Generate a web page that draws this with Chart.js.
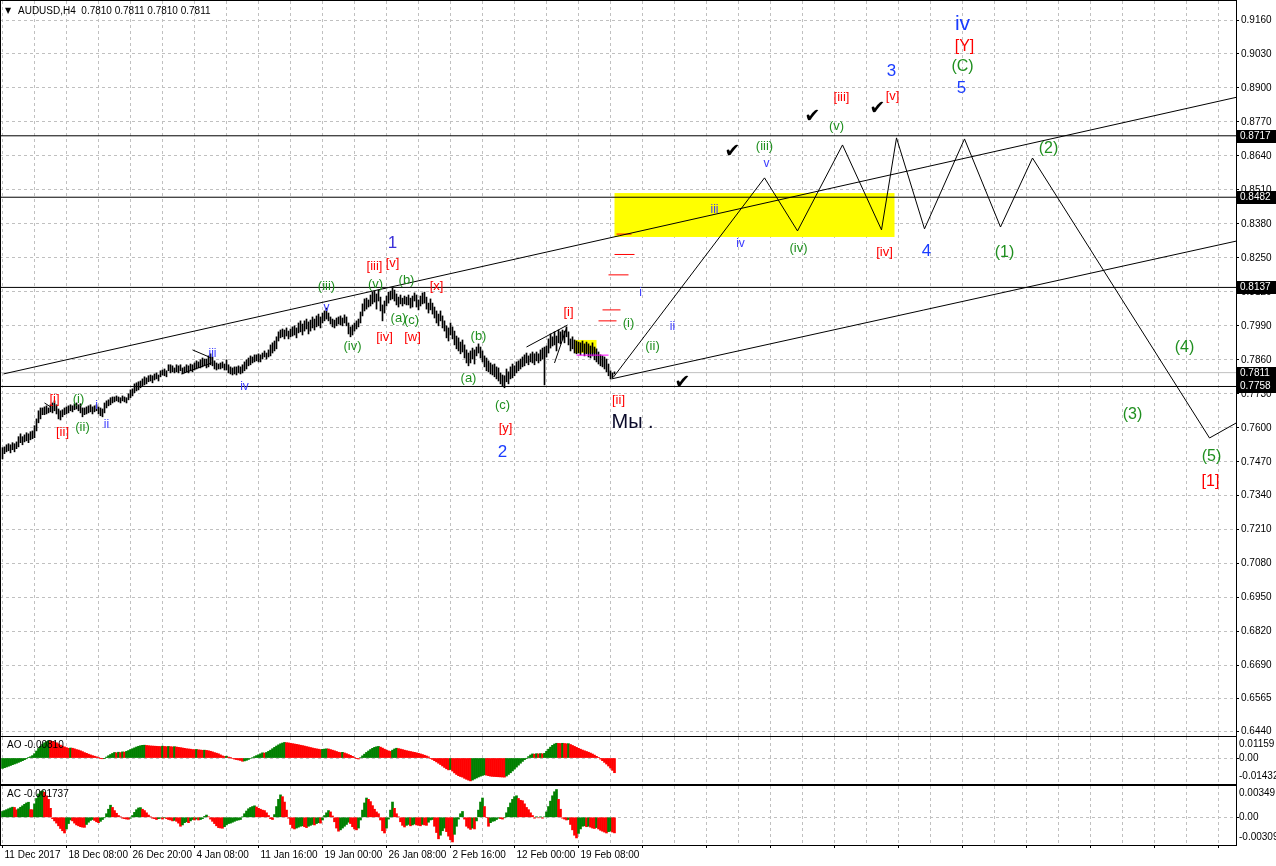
<!DOCTYPE html>
<html>
<head>
<meta charset="utf-8">
<script src="https://cdn.jsdelivr.net/npm/chart.js@4.4.1/dist/chart.umd.min.js"></script>
<style>
  html, body { margin: 0; padding: 0; background: #fff; }
  #wrap { position: relative; width: 1276px; height: 866px; overflow: hidden; }
  canvas { position: absolute; left: 0; }
</style>
</head>
<body>
<div id="wrap">
  <canvas id="mainChart" width="1276" height="737" style="top:0"></canvas>
  <canvas id="aoChart" width="1276" height="49" style="top:736px"></canvas>
  <canvas id="acChart" width="1276" height="81" style="top:785px"></canvas>
</div>
<script>
// AUDUSD H4 bars, prices in pips (x 1e-4)
const priceHigh = [
  7524,7527,7535,7539,7535,7543,7539,7546,7566,7577, 7566,7573,7581,7577,7585,7588,7608,7634,7665,7676,
  7676,7680,7684,7676,7688,7695,7703,7688,7672,7665, 7669,7676,7680,7684,7688,7684,7692,7695,7688,7692,
  7676,7676,7680,7684,7688,7680,7684,7688,7680,7676, 7672,7695,7703,7707,7715,7718,7718,7722,7718,7715,
  7722,7718,7715,7730,7745,7749,7768,7772,7776,7779, 7787,7795,7791,7799,7802,7799,7806,7810,7802,7818,
  7821,7825,7818,7841,7841,7837,7829,7841,7837,7841, 7829,7833,7841,7837,7844,7841,7848,7856,7852,7860,
  7867,7863,7863,7875,7883,7871,7856,7848,7844,7848, 7852,7844,7860,7841,7833,7829,7833,7833,7837,7833,
  7841,7852,7860,7867,7875,7871,7879,7879,7883,7879, 7886,7894,7886,7898,7917,7925,7932,7948,7967,7974,
  7978,7974,7982,7970,7978,7986,7990,7982,8001,8009, 7997,8009,8016,8005,8012,8024,8016,8028,8035,8024,
  8039,8047,8058,8039,8024,8016,8012,8020,8024,8028, 8020,8032,8024,8001,7986,7993,8001,8009,8016,8043,
  8074,8093,8096,8089,8108,8119,8123,8112,8127,8100, 8070,8085,8104,8119,8123,8135,8127,8112,8100,8108,
  8096,8104,8100,8108,8096,8104,8116,8108,8089,8104, 8116,8119,8100,8077,8093,8077,8062,8047,8035,8047,
  8028,8009,7990,7982,8001,7986,7970,7951,7944,7928, 7936,7917,7898,7886,7894,7905,7898,7909,7921,7909,
  7894,7875,7867,7856,7848,7841,7844,7833,7829,7810, 7802,7799,7825,7814,7833,7844,7837,7852,7856,7863,
  7871,7879,7886,7875,7883,7890,7883,7890,7883,7898, 7905,7909,7913,7940,7959,7948,7967,7951,7974,7967,
  7974,7970,7986,7967,7940,7948,7936,7932,7928,7925, 7932,7921,7928,7921,7913,7925,7909,7902,7890,7879,
  7875,7871,7863,7844,7818,7810,7814
];
const priceLow = [
  7481,7501,7508,7512,7504,7516,7508,7520,7527,7543, 7535,7546,7550,7543,7554,7558,7562,7588,7619,7634,
  7650,7650,7653,7657,7661,7657,7665,7653,7634,7630, 7642,7650,7653,7657,7665,7661,7669,7672,7665,7657,
  7642,7650,7653,7657,7661,7653,7661,7665,7653,7646, 7642,7657,7676,7684,7688,7695,7699,7703,7699,7695,
  7703,7699,7695,7707,7715,7722,7734,7741,7745,7753, 7760,7764,7768,7776,7779,7772,7783,7787,7779,7795,
  7802,7799,7795,7818,7810,7814,7810,7814,7810,7818, 7806,7810,7814,7810,7818,7814,7821,7825,7829,7829,
  7833,7837,7829,7833,7841,7837,7825,7821,7825,7825, 7829,7821,7821,7810,7806,7802,7806,7802,7810,7806,
  7810,7818,7825,7837,7841,7848,7852,7856,7852,7852, 7863,7871,7863,7871,7875,7886,7894,7902,7932,7944,
  7948,7940,7951,7940,7948,7951,7955,7944,7963,7967, 7955,7970,7978,7959,7970,7982,7974,7986,7990,7982,
  8001,8009,8016,8009,7997,7986,7982,7990,7997,7993, 7990,8001,7990,7959,7948,7955,7970,7978,7986,8001,
  8028,8047,8054,8062,8066,8074,8081,8054,8085,8047, 8009,8039,8066,8077,8089,8093,8085,8070,8062,8074,
  8066,8074,8070,8070,8058,8062,8085,8062,8051,8066, 8074,8077,8054,8039,8051,8035,8020,8001,7990,8009,
  7982,7970,7944,7932,7955,7940,7917,7902,7894,7883, 7890,7867,7848,7837,7848,7863,7844,7875,7886,7867,
  7852,7833,7818,7814,7806,7802,7795,7787,7779,7768, 7760,7753,7776,7768,7787,7791,7799,7810,7818,7825,
  7833,7837,7848,7841,7852,7848,7841,7856,7848,7856, 7863,7764,7871,7886,7905,7913,7917,7894,7925,7921,
  7936,7925,7948,7917,7894,7902,7886,7883,7886,7879, 7890,7875,7883,7871,7867,7875,7860,7852,7844,7837,
  7833,7825,7814,7799,7787,7791,7806
];
// Awesome Oscillator, x 1e-3
const aoValues = [
  -5.73,-5.33,-4.93,-4.53,-4.13,-3.67,-3.27,-2.87,-2.40,-1.93, -1.47,-0.93,-0.40,0.20,0.73,1.33,2.40,3.87,5.27,6.47,
  7.46,8.40,9.06,9.60,9.40,9.20,8.86,8.40,7.80,7.13, 6.60,6.13,5.73,5.33,5.53,5.40,5.07,4.67,4.40,4.00,
  3.53,3.00,2.60,2.13,1.73,1.33,1.00,0.67,0.33,-0.13, -0.40,-0.20,0.53,1.27,1.93,2.53,3.07,2.87,3.20,3.00,
  3.40,3.27,3.67,4.13,4.67,5.13,5.60,6.07,6.47,6.80, 7.00,7.07,6.93,6.80,6.67,6.60,6.53,6.47,6.40,6.33,
  6.53,6.40,6.27,6.40,6.27,6.13,6.27,6.07,5.87,5.73, 5.53,5.33,5.13,5.00,4.87,4.67,4.60,4.73,4.53,4.40,
  4.27,4.33,4.20,4.00,3.73,3.40,3.00,2.67,2.33,1.73, 1.20,0.87,1.00,0.53,0.13,-0.27,-0.60,-0.87,-1.07,-1.33,
  -1.80,-1.60,-1.27,-0.80,-0.27,0.27,0.80,1.33,1.80,2.33, 2.87,2.73,3.07,3.67,4.33,5.13,5.87,6.60,7.26,7.86,
  8.26,8.60,8.46,8.33,8.13,7.93,7.73,7.53,7.33,7.06, 6.86,6.60,6.33,6.07,5.80,5.53,5.27,5.07,4.87,4.67,
  4.80,4.93,5.07,5.00,4.67,4.33,4.00,3.60,3.20,3.00, 3.13,2.80,2.40,1.93,1.47,0.93,0.33,-0.20,-0.53,0.27,
  1.20,2.13,3.07,3.87,4.67,5.33,5.87,6.20,6.40,6.00, 5.47,4.87,4.33,3.93,3.67,4.33,5.00,5.40,5.20,4.93,
  4.67,4.33,4.07,3.80,3.60,3.33,3.13,2.87,2.60,2.27, 1.93,1.53,1.13,0.67,-0.20,-0.80,-1.47,-2.13,-2.87,-3.60,
  -4.40,-5.20,-5.93,-6.53,-6.33,-7.20,-8.20,-9.06,-9.73,-10.20, -10.53,-11.20,-11.73,-12.20,-12.60,-12.13,-11.53,-11.00,-10.46,-10.00,
  -9.60,-9.26,-9.46,-9.73,-10.00,-10.13,-10.20,-10.26,-10.33,-10.40, -10.46,-10.53,-9.93,-9.06,-8.13,-7.13,-6.07,-5.00,-3.93,-2.87,
  -1.87,-0.93,-0.13,0.80,1.67,2.27,2.13,2.40,2.27,2.47, 2.33,2.60,3.67,4.87,6.00,7.00,7.73,8.13,8.06,8.00,
  8.13,8.00,7.86,7.93,7.46,6.93,6.40,5.87,5.33,4.87, 4.40,4.00,3.60,3.20,2.73,2.20,1.60,0.93,0.20,-0.60,
  -1.47,-2.40,-3.33,-4.40,-5.50,-6.80,-8.10
];
// Accelerator Oscillator, x 1e-4
const acValues = [
  6.5,7.5,8.5,9.5,10.5,11.3,11.0,8.4,9.5,11.2, 12.8,14.5,16.0,16.8,8.6,8.4,15.0,21.0,26.0,28.8,
  29.5,28.0,24.0,20.0,10.0,-1.5,-4.0,-6.5,-9.5,-12.5, -15.0,-17.5,-13.0,-7.0,-3.0,-4.0,-6.5,-8.5,-9.5,-10.5,
  -11.0,-11.2,-8.0,-5.5,-3.5,-2.5,-3.5,-5.0,-6.0,-4.5, -2.5,-0.5,4.0,9.0,13.5,11.0,7.5,4.5,2.0,0.5,
  -1.0,-1.5,-2.0,-2.2,-1.0,2.0,5.5,8.5,10.4,10.8, 9.0,7.5,5.0,2.5,0.5,-1.0,-1.5,-2.5,-1.5,-1.0,
  -2.0,-0.5,-1.5,-2.5,-3.0,-4.0,-3.5,-4.5,-6.5,-10.0, -8.5,-6.0,-5.0,-6.0,-4.0,-2.5,-3.0,-2.0,-3.0,-2.5,
  -1.5,1.0,2.5,0.5,-2.0,-4.5,-7.0,-9.5,-11.5,-11.9, -12.2,-10.5,-8.5,-7.0,-6.5,-5.5,-4.5,-3.5,-3.0,-2.5,
  0.5,4.0,7.0,9.5,11.0,12.0,12.8,11.5,10.0,9.0, 8.0,7.5,5.0,2.0,-1.5,-2.5,3.0,12.0,20.0,25.0,
  23.0,17.0,8.0,-1.0,-8.0,-12.0,-13.0,-12.0,-11.0,-10.0, -9.5,-10.5,-11.5,-10.0,-9.0,-8.0,-8.5,-7.0,-6.0,-6.5,
  -3.0,2.0,5.0,7.5,6.0,1.5,-5.0,-12.0,-15.5,-14.0, -12.0,-10.0,-8.0,-5.5,-7.0,-10.5,-13.0,-14.0,-12.0,-3.0,
  8.0,16.0,21.5,20.0,17.5,13.0,9.0,6.0,4.0,-3.0, -15.0,-17.5,-12.0,-2.0,8.0,17.0,10.0,4.0,0.5,-5.0,
  -9.0,-10.8,-9.0,-8.0,-9.5,-8.5,-7.5,-8.5,-9.0,-9.5, -8.0,-8.5,-9.0,-5.5,-3.0,-2.5,-10.0,-17.0,-24.0,-20.0,
  -15.0,-12.0,-16.0,-21.0,-25.0,-27.5,-19.0,-10.0,-2.0,4.0, 6.5,-2.0,-10.0,-12.0,-13.5,-12.0,-13.0,-4.0,8.0,17.0,
  21.5,12.0,0.0,-10.0,-6.0,-4.5,-4.0,-2.5,-1.0,-1.5, -2.0,-0.5,5.0,11.0,16.0,20.0,23.0,24.0,21.0,19.0,
  18.5,15.0,11.0,8.5,5.0,2.0,-1.0,0.5,-0.5,0.5, -1.0,0.5,6.0,12.0,18.0,24.0,28.5,31.0,20.0,9.0,
  -1.0,-2.0,-3.0,-2.5,-8.0,-14.0,-20.0,-23.0,-18.0,-13.0, -10.0,-9.5,-10.5,-10.0,-11.0,-12.0,-12.5,-11.5,-13.0,-14.5,
  -15.5,-16.5,-17.5,-16.0,-15.5,-16.5,-17.37
];

const timeLabels = ['11 Dec 2017', '18 Dec 08:00', '26 Dec 20:00', '4 Jan 08:00', '11 Jan 16:00',
  '19 Jan 00:00', '26 Jan 08:00', '2 Feb 16:00', '12 Feb 00:00', '19 Feb 08:00'];
const priceTicks = [0.9160, 0.9030, 0.8900, 0.8770, 0.8640, 0.8510, 0.8380, 0.8250, 0.8120, 0.7990, 0.7860,
  0.7730, 0.7600, 0.7470, 0.7340, 0.7210, 0.7080, 0.6950, 0.6820, 0.6690, 0.6565, 0.6440];
const headerText = 'AUDUSD,H4  0.7810 0.7811 0.7810 0.7811';

// horizontal levels and the bid line
const levelLines = [0.8717, 0.8482, 0.8137, 0.7758];
const bidPrice = 0.7811;

// drawn objects: [bar, price] points
const upperChannel = [[0.5, 0.7806], [616.75, 0.8864]];
const lowerChannel = [[304.5, 0.7787], [616.75, 0.8314]];
const projection = [[305.5, 0.7794], [381, 0.8556], [397.5, 0.8353], [420, 0.8682], [439.5, 0.8357],
  [447, 0.8709], [461, 0.8361], [481, 0.8705], [499, 0.8368], [515, 0.8632], [603.5, 0.7561], [616.75, 0.7618]];
const minorLines = [
  [[21, 0.7695], [24, 0.7680]],
  [[95, 0.7898], [104.5, 0.7867]],
  [[89.5, 0.7806], [104.5, 0.7848]],
  [[262, 0.7909], [282.5, 0.7993]],
  [[276, 0.7848], [282, 0.7982]]
];
const redMarks = [[307, 314.5, 0.8341], [306, 316, 0.8263], [303, 313, 0.8185], [300, 309, 0.8051], [298, 307, 0.8009]];
const magentaMark = [287, 303, 0.7878];
const yellowZones = [[306, 446, 0.8330, 0.8498], [286, 297, 0.7886, 0.7936]];
const checkMarks = [[365, 0.8655], [405, 0.8789], [437.5, 0.8820], [340, 0.7771]];

const waveMarks = [
  ['[i]', 26, 0.7710, 'red'], ['[ii]', 30, 0.7584, 'red'], ['(i)', 38, 0.7710, 'green'], ['(ii)', 40, 0.7603, 'green'],
  ['i', 47, 0.7683, 'sub'], ['ii', 52, 0.7611, 'sub'], ['iii', 105, 0.7882, 'sub'], ['iv', 121, 0.7756, 'sub'],
  ['v', 162, 0.8058, 'sub'], ['(iii)', 162, 0.8142, 'green'], ['(iv)', 175, 0.7913, 'green'], ['(v)', 186.5, 0.8150, 'green'],
  ['[iii]', 186, 0.8219, 'red'], ['[v]', 195, 0.8230, 'red'], ['1', 195, 0.8307, 'one'], ['(b)', 202, 0.8162, 'green'],
  ['(a)', 198, 0.8020, 'green'], ['(c)', 204.5, 0.8012, 'green'], ['[iv]', 191, 0.7944, 'red'], ['[w]', 205, 0.7944, 'red'],
  ['[x]', 217, 0.8139, 'red'], ['(b)', 238, 0.7951, 'green'], ['(a)', 233, 0.7790, 'green'], ['(c)', 250, 0.7687, 'green'],
  ['[y]', 251.5, 0.7599, 'red'], ['2', 250, 0.7507, 'big'], ['[i]', 283, 0.8043, 'red'], ['[ii]', 308, 0.7706, 'red'],
  ['(i)', 313, 0.7999, 'green'], ['(ii)', 325, 0.7913, 'green'], ['i', 319, 0.8116, 'sub'], ['ii', 335, 0.7986, 'sub'],
  ['iii', 356, 0.8433, 'sub'], ['iv', 369, 0.8303, 'sub'], ['v', 382, 0.8609, 'sub'], ['(iii)', 381, 0.8678, 'green'],
  ['(iv)', 398, 0.8288, 'green'], ['(v)', 417, 0.8751, 'green'], ['[iii]', 419.5, 0.8862, 'red'], ['[iv]', 441, 0.8269, 'red'],
  ['[v]', 445, 0.8869, 'red'], ['3', 444.5, 0.8965, 'big'], ['4', 462, 0.8276, 'big'], ['5', 479.5, 0.8900, 'big'],
  ['(C)', 480, 0.8980, 'greenBig'], ['[Y]', 481, 0.9057, 'redBig'], ['iv', 480, 0.9145, 'top'],
  ['(1)', 501, 0.8269, 'greenBig'], ['(2)', 523, 0.8667, 'greenBig'], ['(3)', 565, 0.7649, 'greenBig'],
  ['(4)', 591, 0.7905, 'greenBig'], ['(5)', 604.5, 0.7488, 'greenBig'], ['[1]', 604, 0.7396, 'redBig'],
  ['(v)', -4.5, 0.7431, 'green']
];
const noteText = ['Мы .', 304.5, 0.7622];

const markStyles = {
  red: { color: '#ff0000', size: 13 },
  redBig: { color: '#ff0000', size: 16 },
  green: { color: '#1f8f1f', size: 13 },
  greenBig: { color: '#1f8f1f', size: 16 },
  sub: { color: '#3a3aff', size: 12 },
  one: { color: '#3b30d8', size: 17 },
  big: { color: '#1a3cff', size: 17 },
  top: { color: '#1a3cff', size: 21 }
};

const X_MIN = -1.25, X_MAX = 616.75;
const AXIS_FONT = '10px "Liberation Sans", Arial, sans-serif';
const GRID = '#c0c0c0';
const xGridBars = [];
for (let b = 0; b <= 608; b += 16) xGridBars.push(b);

function noPad(s) {
  s.paddingTop = 0; s.paddingBottom = 0; s.paddingLeft = 0; s.paddingRight = 0;
}

function xScale(showLabels) {
  return {
    type: 'linear', min: X_MIN, max: X_MAX, offset: false,
    afterBuildTicks: s => { s.ticks = xGridBars.map(v => ({ value: v })); },
    afterFit: s => { s.height = showLabels ? 20 : 0; noPad(s); },
    grid: {
      color: GRID, offset: false, drawTicks: showLabels, tickLength: 3,
      tickColor: ctx => (ctx.tick && ctx.tick.value % 32 === 0) ? '#000' : 'rgba(0,0,0,0)'
    },
    border: { display: false, dash: [3, 3] },
    ticks: {
      display: showLabels, autoSkip: false, maxRotation: 0, minRotation: 0, align: 'start',
      padding: 1, labelOffset: 2, color: '#000', font: { family: '"Liberation Sans", Arial', size: 10 },
      callback: v => (v % 32 === 0 && timeLabels[v / 32]) ? timeLabels[v / 32] : ''
    }
  };
}

function strokeFrame(chart) {
  const { ctx, chartArea: a } = chart;
  ctx.save();
  ctx.strokeStyle = '#000';
  ctx.lineWidth = 1;
  ctx.strokeRect(a.left + 0.5, a.top - 0.5, a.right - a.left, a.bottom - a.top + 1);
  ctx.restore();
}

function lineSet(points, color) {
  return {
    type: 'line', data: points.map(p => ({ x: p[0], y: p[1] })),
    borderColor: color, borderWidth: 1, pointRadius: 0, tension: 0, fill: false
  };
}

// main price window
const mainDecor = {
  id: 'mainDecor',
  beforeDatasetsDraw(chart) {
    const { ctx, chartArea: a, scales: { x, y } } = chart;
    ctx.save();
    ctx.beginPath();
    ctx.rect(a.left, a.top, a.right - a.left, a.bottom - a.top);
    ctx.clip();
    ctx.fillStyle = '#ffff00';
    yellowZones.forEach(z => {
      const x1 = x.getPixelForValue(z[0]), x2 = x.getPixelForValue(z[1]);
      const y1 = y.getPixelForValue(z[3]), y2 = y.getPixelForValue(z[2]);
      ctx.fillRect(x1, y1, x2 - x1, y2 - y1);
    });
    ctx.restore();
  },
  afterDatasetsDraw(chart) {
    const { ctx, chartArea: a, scales: { x, y } } = chart;
    ctx.save();
    ctx.beginPath();
    ctx.rect(a.left, a.top, a.right - a.left, a.bottom - a.top);
    ctx.clip();
    ctx.textAlign = 'center';
    ctx.textBaseline = 'middle';
    waveMarks.forEach(m => {
      const st = markStyles[m[3]];
      ctx.font = st.size + 'px "Liberation Sans", Arial, sans-serif';
      ctx.fillStyle = st.color;
      ctx.fillText(m[0], x.getPixelForValue(m[1]), y.getPixelForValue(m[2]));
    });
    ctx.font = 'bold 19px "DejaVu Sans", sans-serif';
    ctx.fillStyle = '#000';
    checkMarks.forEach(c => ctx.fillText('\u2714', x.getPixelForValue(c[0]), y.getPixelForValue(c[1])));
    ctx.textAlign = 'left';
    ctx.font = '20px "Liberation Sans", Arial, sans-serif';
    ctx.fillStyle = '#0a0a2a';
    ctx.fillText(noteText[0], x.getPixelForValue(noteText[1]), y.getPixelForValue(noteText[2]));
    ctx.restore();
  },
  afterDraw(chart) {
    const { ctx, chartArea: a, scales: { y } } = chart;
    strokeFrame(chart);
    ctx.save();
    ctx.font = AXIS_FONT;
    ctx.textAlign = 'left';
    ctx.textBaseline = 'middle';
    levelLines.concat([bidPrice]).forEach(v => {
      const py = Math.round(y.getPixelForValue(v));
      ctx.fillStyle = '#000';
      ctx.fillRect(a.right + 1, py - 6, 40, 13);
      ctx.fillStyle = '#fff';
      ctx.fillText(v.toFixed(4), a.right + 4, py + 0.5);
    });
    ctx.fillStyle = '#000';
    ctx.font = '8px "DejaVu Sans", sans-serif';
    ctx.fillText('\u25BC', a.left + 5, a.top + 10);
    ctx.font = AXIS_FONT;
    ctx.fillText(headerText, a.left + 18, a.top + 10);
    ctx.restore();
  }
};

const mainDatasets = [];
mainDatasets.push(lineSet(upperChannel, '#000'));
mainDatasets.push(lineSet(lowerChannel, '#000'));
mainDatasets.push(lineSet(projection, '#000'));
minorLines.forEach(l => mainDatasets.push(lineSet(l, '#000')));
redMarks.forEach(r => mainDatasets.push(lineSet([[r[0], r[2]], [r[1], r[2]]], '#ff0000')));
mainDatasets.push(lineSet([[magentaMark[0], magentaMark[2]], [magentaMark[1], magentaMark[2]]], '#ff00ff'));
levelLines.forEach(v => mainDatasets.push(lineSet([[X_MIN, v], [X_MAX, v]], '#000')));
mainDatasets.push({
  type: 'bar',
  data: priceHigh.map((h, i) => ({ x: i, y: [priceLow[i] / 1e4, h / 1e4] })),
  backgroundColor: '#000', borderWidth: 0, barThickness: 1, grouped: false
});
mainDatasets.push(lineSet([[X_MIN, bidPrice], [X_MAX, bidPrice]], '#c0c0c0'));

new Chart(document.getElementById('mainChart'), {
  type: 'bar',
  data: { datasets: mainDatasets },
  options: {
    responsive: false, animation: false, devicePixelRatio: 1,
    layout: { padding: { top: 1, bottom: 1, left: 0, right: 0 } },
    plugins: { legend: { display: false }, tooltip: { enabled: false } },
    scales: {
      x: xScale(false),
      y: {
        position: 'right', min: 0.64209, max: 0.92327,
        afterBuildTicks: s => { s.ticks = priceTicks.map(v => ({ value: v })); },
        afterFit: s => { s.width = 40; noPad(s); },
        grid: { color: GRID, drawTicks: true, tickLength: 3, tickColor: '#000' },
        border: { display: true, color: '#000', dash: [3, 3] },
        ticks: { padding: 2, color: '#000', font: { family: '"Liberation Sans", Arial', size: 10 },
          callback: v => v.toFixed(4) }
      }
    }
  },
  plugins: [mainDecor]
});

// oscillator windows
function histColors(vals) {
  let last = '#008000';
  return vals.map((v, i) => {
    if (i > 0 && v > vals[i - 1]) last = '#008000';
    else if (i > 0 && v < vals[i - 1]) last = '#ff0000';
    return last;
  });
}

function oscChart(id, name, vals, unit, digits, lo, hi, showX) {
  const decor = {
    id: 'decor' + name,
    afterDraw(chart) {
      const { ctx, chartArea: a, scales: { y } } = chart;
      strokeFrame(chart);
      ctx.save();
      ctx.font = AXIS_FONT;
      ctx.fillStyle = '#000';
      ctx.textAlign = 'left';
      ctx.textBaseline = 'middle';
      ctx.fillText(String(hi), a.right + 3, a.top + 7);
      ctx.fillText('0.00', a.right + 3, y.getPixelForValue(0));
      ctx.fillText(String(lo), a.right + 3, a.bottom - 8);
      ctx.fillText(name + ' ' + (vals[vals.length - 1] * unit).toFixed(digits), a.left + 7, a.top + 8);
      ctx.restore();
    }
  };
  new Chart(document.getElementById(id), {
    type: 'bar',
    data: {
      datasets: [{
        data: vals.map((v, i) => ({ x: i, y: v * unit })),
        backgroundColor: histColors(vals), borderWidth: 0, barThickness: 2, grouped: false
      }]
    },
    options: {
      responsive: false, animation: false, devicePixelRatio: 1,
      layout: { padding: { top: 1, bottom: 1, left: 0, right: 0 } },
      plugins: { legend: { display: false }, tooltip: { enabled: false } },
      scales: {
        x: xScale(showX),
        y: {
          position: 'right', min: lo, max: hi,
          afterBuildTicks: s => { s.ticks = [{ value: 0 }]; },
          afterFit: s => { s.width = 40; noPad(s); },
          grid: { color: GRID, drawTicks: true, tickLength: 3, tickColor: '#000' },
          border: { display: true, color: '#000', dash: [3, 3] },
          ticks: { display: false }
        }
      }
    },
    plugins: [decor]
  });
}

oscChart('aoChart', 'AO', aoValues, 1e-3, 5, -0.01432, 0.01159, false);
oscChart('acChart', 'AC', acValues, 1e-4, 6, -0.00309, 0.003491, true);
</script>
</body>
</html>
